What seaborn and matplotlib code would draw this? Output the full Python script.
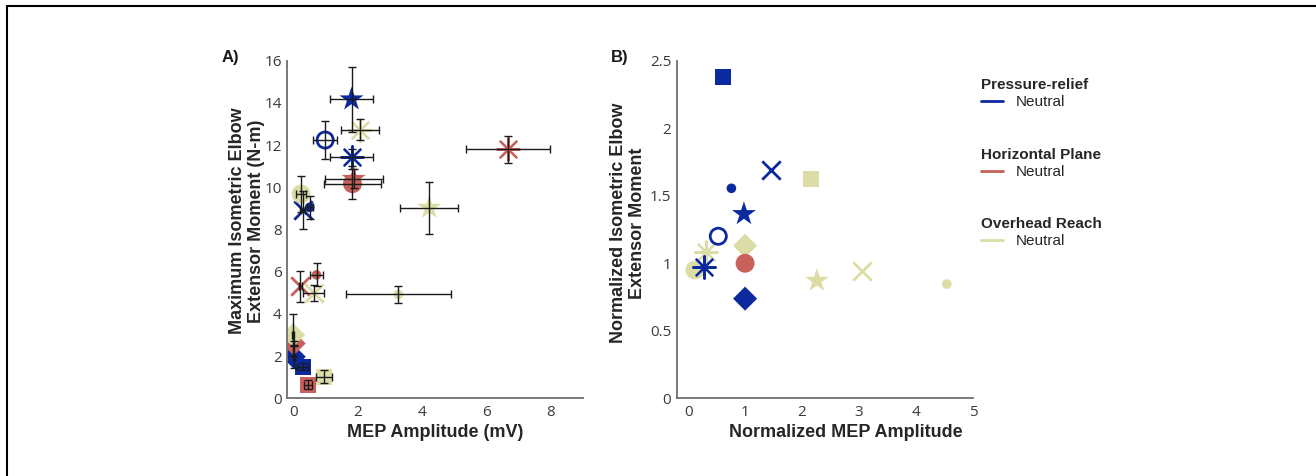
import pandas as pd
import matplotlib
matplotlib.use("Agg")
import matplotlib.pyplot as plt
from matplotlib.lines import Line2D
from matplotlib.ticker import FuncFormatter
import seaborn as sns

# ---- data ----
conditions = ["Pressure-relief", "Horizontal Plane", "Overhead Reach"]
colors = ["#0b2a9e", "#c8605c", "#dcdca6"]
shapes = ["square", "dot", "x", "star", "ring", "asterisk", "diamond"]

# panel A: raw MEP amplitude (mV) vs max elbow extensor moment (N-m)
a_cond = ["Pressure-relief"] * 7 + ["Horizontal Plane"] * 7 + ["Overhead Reach"] * 7
a_shape = ["square", "dot", "x", "star", "ring", "asterisk", "diamond",
           "square", "dot", "x", "star", "circle", "asterisk", "diamond",
           "square", "dot", "x", "star", "circle", "asterisk", "diamond"]
a_x = [0.28, 0.50, 0.28, 1.80, 0.98, 1.80, 0.00,
       0.45, 0.71, 0.21, 1.87, 1.83, 6.67, 0.00,
       0.94, 3.26, 0.62, 4.22, 0.23, 2.06, -0.02]
a_y = [1.50, 9.05, 8.92, 14.17, 12.24, 11.42, 1.97,
       0.65, 5.85, 5.30, 10.40, 10.17, 11.80, 2.60,
       1.02, 4.92, 5.00, 9.03, 9.68, 12.72, 3.00]
a_xerr = [0.18, 0.10, 0.08, 0.67, 0.38, 0.68, 0.03,
          0.12, 0.20, 0.05, 0.90, 0.88, 1.31, 0.02,
          0.24, 1.64, 0.33, 0.91, 0.16, 0.60, 0.02]
a_yerr = [0.15, 0.55, 0.90, 1.53, 0.92, 0.40, 0.55,
          0.20, 0.55, 0.73, 0.45, 0.72, 0.63, 0.10,
          0.30, 0.42, 0.37, 1.22, 0.85, 0.50, 1.00]

# panel B: normalized values
b_cond = ["Overhead Reach"] * 7 + ["Horizontal Plane"] + ["Pressure-relief"] * 7
b_shape = ["circle", "asterisk", "diamond", "square", "star", "x", "dot",
           "circle",
           "square", "dot", "x", "star", "ring", "asterisk", "diamond"]
b_x = [0.12, 0.31, 1.00, 2.15, 2.26, 3.05, 4.54,
       1.00,
       0.61, 0.76, 1.45, 0.98, 0.53, 0.28, 1.00]
b_y = [0.95, 1.086, 1.13, 1.626, 0.871, 0.943, 0.846,
       1.00,
       2.38, 1.555, 1.69, 1.365, 1.20, 0.97, 0.738]

df_a = pd.DataFrame({"cond": a_cond, "shape": a_shape, "x": a_x, "y": a_y,
                     "xerr": a_xerr, "yerr": a_yerr})
df_b = pd.DataFrame({"cond": b_cond, "shape": b_shape, "x": b_x, "y": b_y})

palette = dict(zip(conditions, colors))
# marker, area (pt^2), line width
marker_spec = {
    "square": ("s", 132, 0),
    "dot": ("o", 48, 0),
    "x": ("x", 175, 2.0),
    "star": ("*", 330, 0),
    "ring": ("o", 135, 2.0),
    "circle": ("o", 185, 0),
    "asterisk": ((8, 2, 0), 260, 1.6),
    "diamond": ("D", 150, 0),
}

sns.set_style("white")
plt.rcParams["font.family"] = ["Liberation Sans", "DejaVu Sans"]

fig = plt.figure(figsize=(13.16, 4.76), dpi=100)
ax_a = fig.add_axes([0.2183, 0.1632, 0.2245, 0.7093])
ax_b = fig.add_axes([0.5142, 0.1632, 0.2252, 0.7093])


def draw_points(ax, df):
    for cond in df["cond"].unique():
        sub_c = df[df["cond"] == cond]
        for shp in sub_c["shape"].unique():
            sub = sub_c[sub_c["shape"] == shp]
            m, s, lw = marker_spec[shp]
            sns.scatterplot(data=sub, x="x", y="y", hue="cond", palette=palette,
                            marker=m, s=s, linewidth=lw, legend=False, ax=ax,
                            zorder=2)
            coll = ax.collections[-1]
            if shp == "ring":
                coll.set_facecolor("none")
                coll.set_edgecolor(palette[cond])
            elif lw == 0:
                coll.set_edgecolor("none")


draw_points(ax_a, df_a)
ax_a.errorbar(df_a["x"], df_a["y"], xerr=df_a["xerr"], yerr=df_a["yerr"],
              fmt="none", ecolor="#1a1a1a", elinewidth=1.0, capsize=3,
              capthick=1.0, zorder=3)
draw_points(ax_b, df_b)

fmt = FuncFormatter(lambda v, p: f"{v:g}")
for ax in (ax_a, ax_b):
    for side in ("top", "right"):
        ax.spines[side].set_visible(False)
    for side in ("left", "bottom"):
        ax.spines[side].set_color("#6e6e6e")
        ax.spines[side].set_linewidth(1.3)
    ax.tick_params(direction="in", length=3, width=1, colors="#6e6e6e",
                   labelcolor="#3a3a3a", labelsize=11)
    ax.yaxis.set_major_formatter(fmt)
    ax.xaxis.set_major_formatter(fmt)
    ax.tick_params(axis="y", pad=4)
    ax.tick_params(axis="x", pad=5)

ax_a.set_xlim(-0.2, 9)
ax_a.set_ylim(0, 16)
ax_a.set_xticks([0, 2, 4, 6, 8])
ax_a.set_yticks(range(0, 17, 2))
ax_b.set_xlim(-0.2, 5)
ax_b.set_ylim(0, 2.5)
ax_b.set_xticks(range(0, 6))
ax_b.set_yticks([0, 0.5, 1, 1.5, 2, 2.5])
for ax in (ax_a, ax_b):
    for lab in ax.get_xticklabels() + ax.get_yticklabels():
        lab.set_family("Open Sans")

label_kw = dict(fontsize=13, fontweight="bold", color="#262626")
ax_a.set_xlabel("MEP Amplitude (mV)", **label_kw)
ax_a.set_ylabel("Maximum Isometric Elbow\nExtensor Moment (N-m)", **label_kw)
ax_b.set_xlabel("Normalized MEP Amplitude", **label_kw)
ax_b.set_ylabel("Normalized Isometric Elbow\nExtensor Moment", **label_kw)
ax_a.xaxis.set_label_coords(0.5, -0.1)
ax_b.xaxis.set_label_coords(0.57, -0.1)
ax_a.yaxis.set_label_coords(-0.136, 0.525)
ax_b.yaxis.set_label_coords(-0.164, 0.519)
for ax in (ax_a, ax_b):
    ax.xaxis.label.set_va("center")
    ax.yaxis.label.set_va("center")

fig.text(221.7 / 1316, 1 - 61.7 / 476, "A)", fontsize=12, fontweight="bold",
         va="baseline", color="#1a1a1a")
fig.text(610.7 / 1316, 1 - 61.7 / 476, "B)", fontsize=12, fontweight="bold",
         va="baseline", color="#1a1a1a")

# legend: one small block per task
leg_tops = [78, 148, 217]
for cond, col, top in zip(conditions, colors, leg_tops):
    fig.legend(handles=[Line2D([], [], color=col, lw=2)], labels=["Neutral"],
               title=cond, loc="upper left",
               bbox_to_anchor=(981 / 1316, 1 - top / 476),
               frameon=False, alignment="left", fontsize=11,
               title_fontproperties={"weight": "bold", "size": 11},
               handlelength=1.45, handletextpad=0.8, borderpad=0,
               borderaxespad=0, labelspacing=0.2)

# thin page frame (top and left visible in the reference)
fig.add_artist(Line2D([7 / 1316, 1], [1 - 6 / 476, 1 - 6 / 476],
                      transform=fig.transFigure, color="black", lw=1.5))
fig.add_artist(Line2D([7 / 1316, 7 / 1316], [0, 1 - 6 / 476],
                      transform=fig.transFigure, color="black", lw=1.5))

fig.savefig("out.png", dpi=100)
